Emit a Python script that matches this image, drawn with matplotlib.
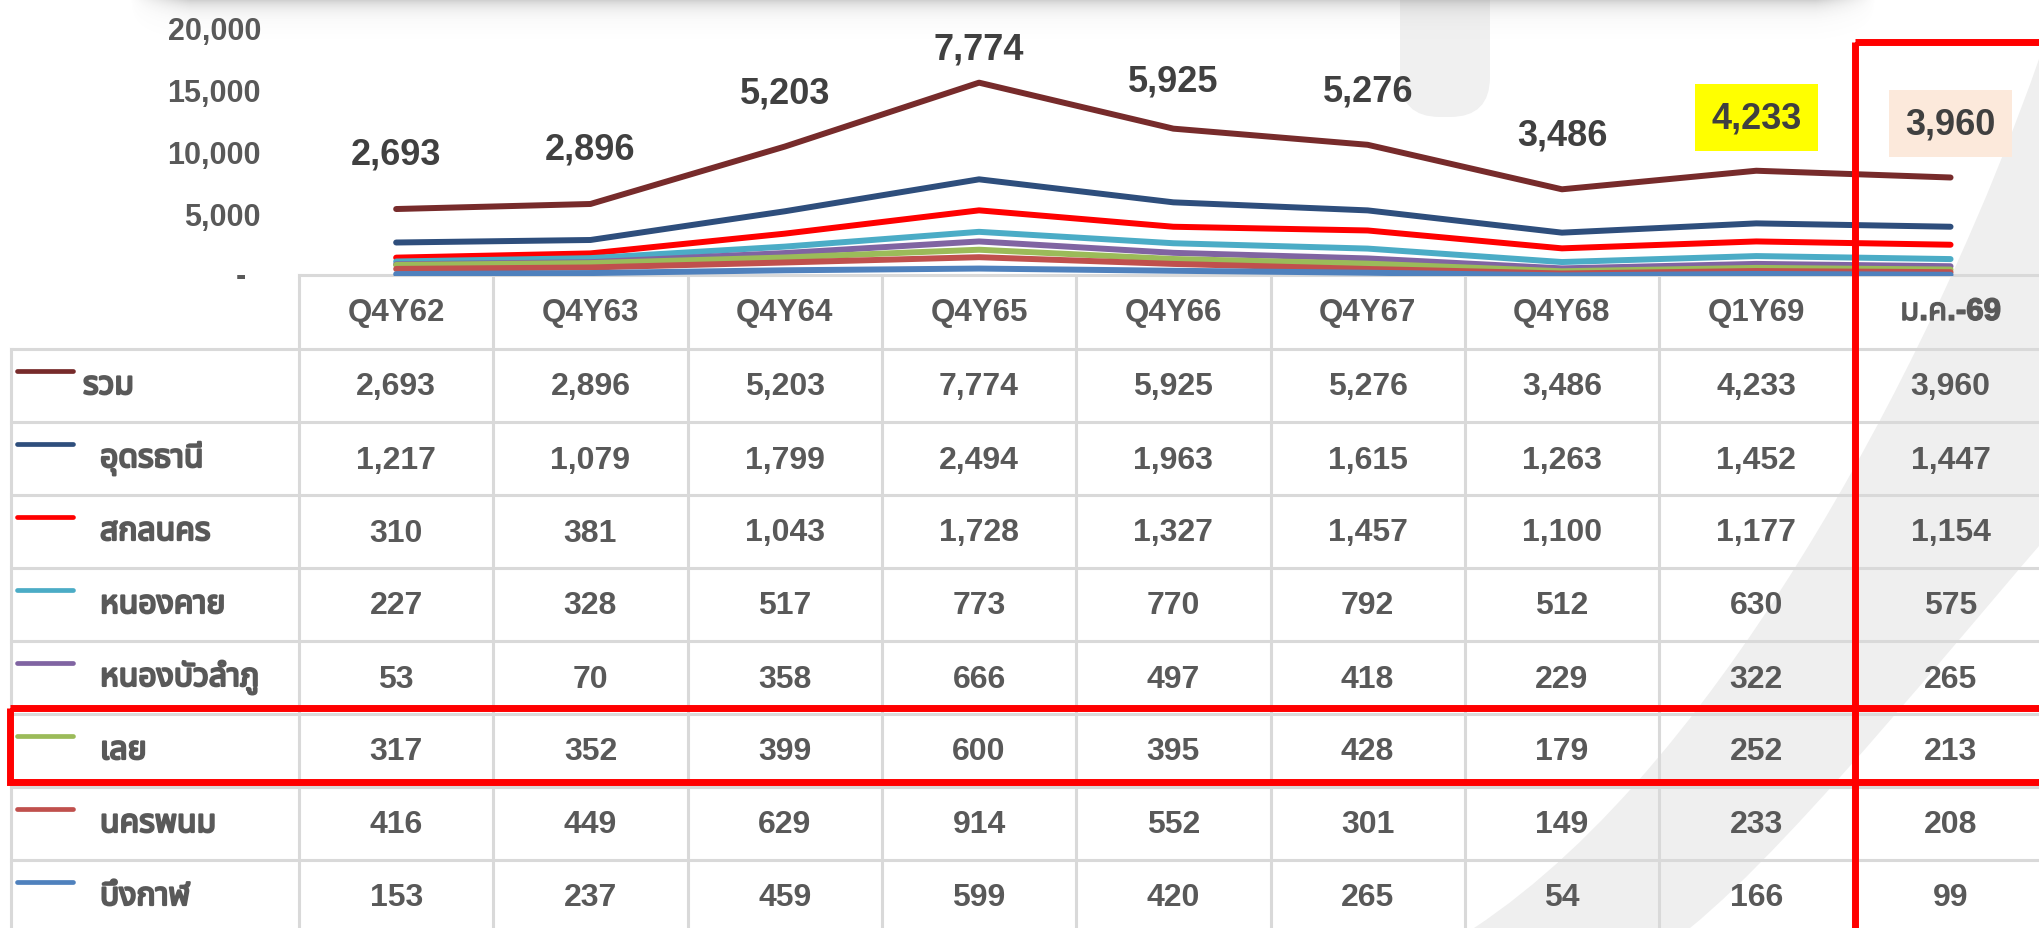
import numpy as np
import matplotlib
matplotlib.use('Agg')
import matplotlib.pyplot as plt
import matplotlib.patheffects as pe
from matplotlib import font_manager as fm
from matplotlib.ft2font import FT2Font
from matplotlib.patches import Rectangle, PathPatch, FancyBboxPatch
from matplotlib.path import Path

# ข้อมูลจากตาราง
periods = ['Q4Y62', 'Q4Y63', 'Q4Y64', 'Q4Y65', 'Q4Y66', 'Q4Y67', 'Q4Y68', 'Q1Y69', 'ม.ค.-69']
names = ['รวม', 'อุดรธานี', 'สกลนคร', 'หนองคาย', 'หนองบัวลำภู', 'เลย', 'นครพนม', 'บึงกาฬ']
total = [2693, 2896, 5203, 7774, 5925, 5276, 3486, 4233, 3960]
udon = [1217, 1079, 1799, 2494, 1963, 1615, 1263, 1452, 1447]
sakon = [310, 381, 1043, 1728, 1327, 1457, 1100, 1177, 1154]
nongkhai = [227, 328, 517, 773, 770, 792, 512, 630, 575]
nongbua = [53, 70, 358, 666, 497, 418, 229, 322, 265]
loei = [317, 352, 399, 600, 395, 428, 179, 252, 213]
nakhon = [416, 449, 629, 914, 552, 301, 149, 233, 208]
bueng = [153, 237, 459, 599, 420, 265, 54, 166, 99]
yticks = [5000, 10000, 15000, 20000]

series = [total, udon, sakon, nongkhai, nongbua, loei, nakhon, bueng]
colors = ['#772B2B', '#2E4E7C', '#FF0000', '#4BACC6', '#8064A2', '#9BBB59', '#C0504D', '#4F81BD']
label_dy = [55, 55, 54, 34, 48, 54, 54, 53, 54]
label_bg = {7: '#FFFF00', 8: '#FCE9DB'}


def thai_family():
    have = {f.name for f in fm.fontManager.ttflist}
    for n in ['Noto Sans Thai', 'Noto Sans Thai UI', 'Noto Sans Thai Looped', 'Loma', 'Garuda', 'Umpush']:
        if n in have:
            return n
    for f in fm.fontManager.ttflist:
        try:
            if 0x0E23 in FT2Font(f.fname).get_charmap():
                return f.name
        except Exception:
            pass
    return 'DejaVu Sans'


THAI = thai_family()
LAT = 'Liberation Sans'
GREY = '#595959'
# ฟอนต์ไทยไม่มีตัวหนา เลยเติมเส้นขอบให้ดูหนาขึ้น
thai_bold = [pe.withStroke(linewidth=1.6, foreground=GREY)]

W, H = 2039, 929
fig = plt.figure(figsize=(W / 100, H / 100), dpi=100)
fig.patch.set_facecolor('white')

bg = fig.add_axes([0, 0, 1, 1], zorder=0)
bg.set_xlim(0, W)
bg.set_ylim(H, 0)
bg.axis('off')

# แถบสีเทาพื้นหลัง
verts = [(2039, 60), (1945, 330), (1730, 760), (1474, 929),
         (1474, 940), (1690, 940), (1690, 929),
         (1800, 840), (1990, 600), (2080, 500),
         (2080, 40), (2039, 60)]
codes = [Path.MOVETO, Path.CURVE4, Path.CURVE4, Path.CURVE4,
         Path.LINETO, Path.LINETO, Path.LINETO,
         Path.CURVE4, Path.CURVE4, Path.CURVE4,
         Path.LINETO, Path.CLOSEPOLY]
bg.add_patch(PathPatch(Path(verts, codes), fc='#efefef', ec='none', zorder=0))
bg.add_patch(FancyBboxPatch((1400, -40), 90, 158, boxstyle='round,pad=0,rounding_size=40',
                            fc='#f0f0f0', ec='none', zorder=0))

# เงาด้านบน
yy = np.arange(40)[:, None]
xx = np.arange(1745)[None, :]
alpha = 0.36 * np.exp(-yy / 9.0) * np.clip(np.minimum(xx, 1745 - xx) / 60.0, 0, 1)
shade = np.zeros((40, 1745, 4))
shade[..., :3] = 0.45
shade[..., 3] = alpha
bg.imshow(shade, extent=[130, 1875, 40, 0], aspect='auto', zorder=1, interpolation='bilinear')

# ตาราง
x0, cw = 299, 194.3
top_y, head_h, row_h = 276, 74, 73
grid = dict(color='#d9d9d9', lw=2.2, zorder=2)
bg.plot([x0, W], [top_y, top_y], **grid)
for r in range(len(names) + 1):
    y = top_y + head_h + r * row_h
    bg.plot([11, W], [y, y], **grid)
bg.plot([11, 11], [top_y + head_h, H], **grid)
for k in range(len(periods) + 1):
    bg.plot([x0 + k * cw] * 2, [top_y, H], **grid)

for k, p in enumerate(periods):
    t = bg.text(x0 + (k + 0.5) * cw, top_y + head_h / 2, p, ha='center', va='center',
                fontsize=22.5, weight='bold', color=GREY, family=[LAT, THAI], zorder=3)
    if k == len(periods) - 1:
        t.set_path_effects([pe.withStroke(linewidth=1.0, foreground=GREY)])

for r, (name, vals, c) in enumerate(zip(names, series, colors)):
    ry = top_y + head_h + r * row_h
    bg.plot([17, 73], [ry + 22, ry + 22], color=c, lw=3.4, solid_capstyle='round', zorder=3)
    bg.text(83 if r == 0 else 100, ry + row_h / 2, name, ha='left', va='center',
            fontsize=23, weight='bold', color=GREY, family=[THAI, LAT], zorder=3,
            path_effects=thai_bold)
    for k, v in enumerate(vals):
        bg.text(x0 + (k + 0.5) * cw, ry + row_h / 2 + 1, f'{v:,}', ha='center', va='center',
                fontsize=23, weight='bold', color=GREY, family=LAT, zorder=3)

# กราฟเส้นแบบซ้อน
base_px, top_px = 277, 28.3
ax = fig.add_axes([x0 / W, (H - base_px) / H, len(periods) * cw / W, (base_px - top_px) / H], zorder=2)
ax.patch.set_alpha(0)
x = np.arange(len(periods))
cum = np.cumsum(np.array(series[::-1]), axis=0)[::-1]
for k in range(len(series)):
    ax.plot(x, cum[k], color=colors[k], lw=4.3, solid_capstyle='round', zorder=3 + k)
ax.set_xlim(-0.5, len(periods) - 0.5)
ax.set_ylim(0, 20000)
ax.set_xticks([])
ax.set_yticks(yticks, labels=[f'{t:,}' for t in yticks])
ax.tick_params(axis='y', length=0, pad=27.4)
for lab in ax.get_yticklabels():
    lab.set_fontsize(22)
    lab.set_fontweight('bold')
    lab.set_color(GREY)
    lab.set_family(LAT)
for s in ax.spines.values():
    s.set_visible(False)
ax.annotate('-', xy=(0, 0), xycoords=('axes fraction', 'data'), xytext=(-58, 0),
            textcoords='offset pixels', ha='center', va='center', fontsize=22,
            weight='bold', color=GREY, family=LAT, annotation_clip=False)

for i, v in enumerate(total):
    box = None
    if i in label_bg:
        box = dict(boxstyle='square,pad=0.45', fc=label_bg[i], ec='none')
    ax.annotate(f'{v:,}', xy=(i, cum[0][i]), xytext=(0, label_dy[i]), textcoords='offset pixels',
                ha='center', va='center', fontsize=26, weight='bold', color='#404040',
                family=LAT, bbox=box, annotation_clip=False, zorder=20)

# กรอบสีแดง
over = fig.add_axes([0, 0, 1, 1], zorder=5)
over.set_xlim(0, W)
over.set_ylim(H, 0)
over.axis('off')
over.patch.set_alpha(0)
over.add_patch(Rectangle((10, 709), 2200, 74, fill=False, ec='#FF0000', lw=5))
over.add_patch(Rectangle((1855, 43), 400, 1000, fill=False, ec='#FF0000', lw=5))

fig.savefig('out.png', dpi=100)
